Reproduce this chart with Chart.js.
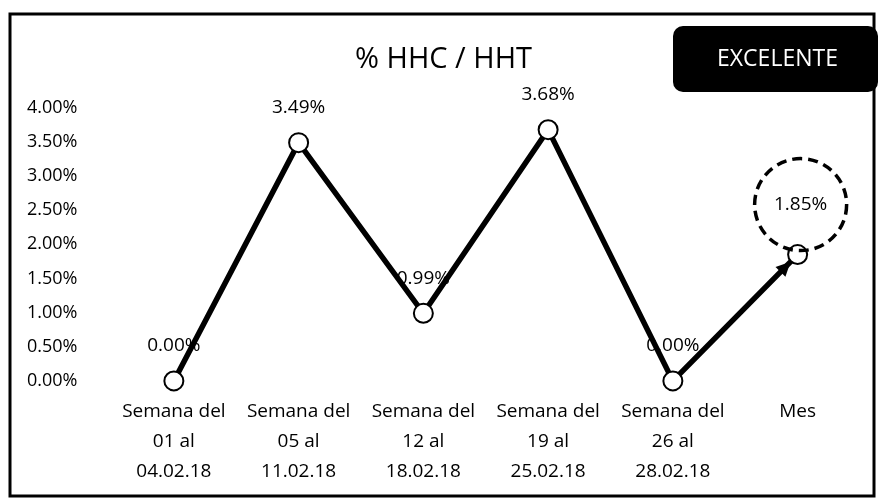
<!DOCTYPE html>
<html>
<head>
<meta charset="utf-8">
<script src="https://cdn.jsdelivr.net/npm/chart.js@4.4.1/dist/chart.umd.min.js"></script>
<style>
  html, body { margin: 0; padding: 0; background: #fff; }
  #wrap { position: relative; width: 880px; height: 504px; }
</style>
</head>
<body>
<div id="wrap"><canvas id="chart" width="880" height="504"></canvas></div>
<script>
const categories = [
  ['Semana del', '01 al', '04.02.18'],
  ['Semana del', '05 al', '11.02.18'],
  ['Semana del', '12 al', '18.02.18'],
  ['Semana del', '19 al', '25.02.18'],
  ['Semana del', '26 al', '28.02.18'],
  ['Mes']
];
const hhcHht = [0.00, 3.49, 0.99, 3.68, 0.00, 1.85];
const yTicks = [0, 0.5, 1, 1.5, 2, 2.5, 3, 3.5, 4];
const badgeText = 'EXCELENTE';

const FONT = "'Open Sans', 'DejaVu Sans', sans-serif";

// frame, badge, value labels, arrow and dashed circle
const decorations = {
  id: 'decorations',
  beforeDraw(chart) {
    const ctx = chart.ctx;
    ctx.save();
    ctx.strokeStyle = '#000';
    ctx.lineWidth = 3;
    ctx.strokeRect(10, 14, 864, 482);
    ctx.restore();
  },
  afterDatasetsDraw(chart) {
    const ctx = chart.ctx;
    const pts = chart.getDatasetMeta(0).data;
    const last = pts.length - 1;

    ctx.save();
    // arrowhead on the final segment
    const a = pts[last - 1], b = pts[last];
    const ang = Math.atan2(b.y - a.y, b.x - a.x);
    const tipX = b.x - Math.cos(ang) * 10, tipY = b.y - Math.sin(ang) * 10;
    ctx.fillStyle = '#000';
    ctx.beginPath();
    ctx.moveTo(tipX, tipY);
    ctx.lineTo(tipX - Math.cos(ang - 0.45) * 16, tipY - Math.sin(ang - 0.45) * 16);
    ctx.lineTo(tipX - Math.cos(ang + 0.45) * 16, tipY - Math.sin(ang + 0.45) * 16);
    ctx.closePath();
    ctx.fill();

    // value labels
    ctx.font = '19px ' + FONT;
    ctx.textAlign = 'center';
    ctx.textBaseline = 'middle';
    ctx.fillStyle = '#000';
    hhcHht.forEach((v, i) => {
      const p = pts[i];
      if (i === last) {
        const cx = p.x + 3, cy = p.y - 50;
        ctx.fillText(v.toFixed(2) + '%', cx, cy);
        ctx.setLineDash([10, 6]);
        ctx.lineWidth = 3.5;
        ctx.strokeStyle = '#000';
        ctx.beginPath();
        ctx.arc(cx, cy, 46, 0, Math.PI * 2);
        ctx.stroke();
        ctx.setLineDash([]);
      } else {
        ctx.fillText(v.toFixed(2) + '%', p.x, p.y - 35);
      }
    });

    // EXCELENTE badge
    const bx = 673, by = 26, bw = 205, bh = 66, r = 10;
    ctx.fillStyle = '#000';
    ctx.beginPath();
    ctx.roundRect(bx, by, bw, bh, r);
    ctx.fill();
    ctx.fillStyle = '#fff';
    ctx.font = '23px ' + FONT;
    ctx.fillText(badgeText, bx + bw / 2 + 2, by + bh / 2);
    ctx.restore();
  }
};

new Chart(document.getElementById('chart'), {
  type: 'line',
  data: {
    labels: categories,
    datasets: [{
      label: '% HHC / HHT',
      data: hhcHht,
      clip: false,
      borderColor: '#000',
      borderWidth: 5.5,
      tension: 0,
      pointRadius: 9.5,
      pointBorderWidth: 2,
      pointBackgroundColor: '#fff',
      pointBorderColor: '#000'
    }]
  },
  options: {
    responsive: false,
    animation: false,
    layout: { padding: { top: 42, left: 27, right: 20, bottom: 1 } },
    plugins: {
      legend: { display: false },
      tooltip: { enabled: false },
      title: {
        display: true,
        text: '% HHC / HHT',
        color: '#000',
        font: { family: FONT, size: 29, weight: 'normal' },
        padding: { top: 0, bottom: 31 }
      }
    },
    scales: {
      x: {
        offset: true,
        grid: { display: false, drawTicks: false },
        border: { display: false },
        ticks: {
          color: '#000',
          maxRotation: 0,
          autoSkip: false,
          padding: 16,
          font: { family: FONT, size: 19, lineHeight: 1.58 }
        }
      },
      y: {
        min: 0,
        max: 4,
        afterBuildTicks(axis) { axis.ticks = yTicks.map(v => ({ value: v })); },
        grid: { display: false, drawTicks: false },
        border: { display: false },
        ticks: {
          color: '#000',
          crossAlign: 'far',
          padding: 17,
          font: { family: FONT, size: 18 },
          callback: v => Number(v).toFixed(2) + '%'
        }
      }
    }
  },
  plugins: [decorations]
});
</script>
</body>
</html>
